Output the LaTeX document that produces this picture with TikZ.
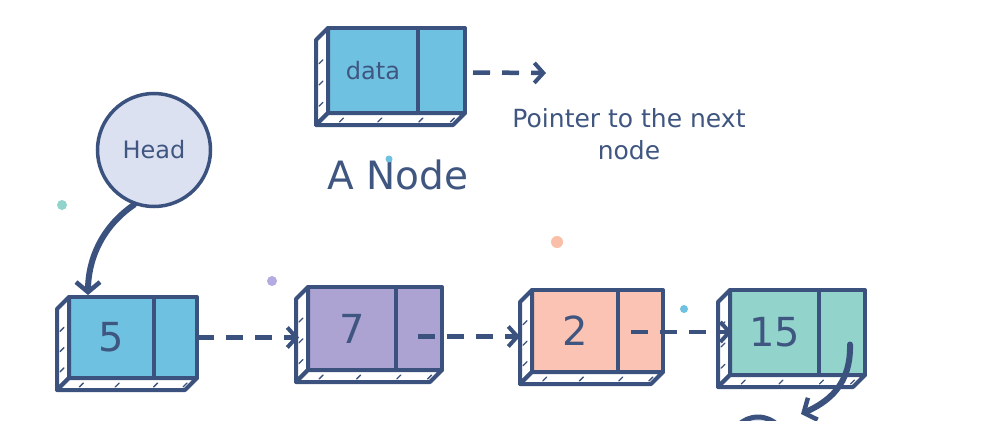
\documentclass[tikz,border=0pt]{standalone}
\usepackage{fontspec}
\setmainfont{DejaVu Sans}
\usetikzlibrary{arrows.meta,calc}
\definecolor{ink}{HTML}{3B527E}
\definecolor{txt}{HTML}{3F5680}
\definecolor{cblue}{HTML}{6EC1E0}
\definecolor{cpurple}{HTML}{ADA3D2}
\definecolor{csalmon}{HTML}{FBC3B3}
\definecolor{cteal}{HTML}{92D3CB}
\definecolor{chead}{HTML}{DCE1F2}
\definecolor{dotpurple}{HTML}{B3ACE2}
\definecolor{dotsalmon}{HTML}{F9BFA8}
\tikzset{
  face/.style={draw=ink, line width=4pt, line join=round},
  cell/.style={face, inner sep=0pt, outer sep=0pt, anchor=north west},
  tick/.style={draw=ink, line width=1.3pt, line cap=round},
  bignum/.style={text=txt, font=\fontsize{40}{44}\selectfont, inner sep=0pt},
  smallnum/.style={text=txt, font=\fontsize{24}{28}\selectfont, inner sep=0pt},
  lbl/.style={text=txt, font=\fontsize{25}{32}\selectfont, inner sep=0pt},
  ptr/.style={draw=ink, line width=4.5pt, dash pattern=on 17pt off 12pt,
    -{Straight Barb[length=9pt,width=20pt,line width=4pt]}},
  harrow/.style={draw=ink, line width=6pt, line cap=round,
    -{Straight Barb[length=10pt,width=24pt,line width=4.5pt]}},
}
% name, x, y, data width, ptr width, height, colour, text, text style
\newcommand\LLbox[9]{%
  \node[cell, fill=#7, minimum width=#4pt, minimum height=#6pt] (d#1) at (#2,#3) {};
  \node[cell, fill=#7, minimum width=#5pt, minimum height=#6pt] (p#1) at (d#1.north east) {};
  \draw[face, fill=white] (d#1.north west) -- ++(-12,12) -- ($(d#1.south west)+(-12,12)$) -- (d#1.south west) -- cycle;
  \draw[face, fill=white] (d#1.south west) -- (p#1.south east) -- ++(-12,12) -- ($(d#1.south west)+(-12,12)$) -- cycle;
  \foreach \f in {0.35,0.6,0.85}{
    \draw[tick] ($(d#1.north west)!\f!(d#1.south west)+(-9,6)$) -- ++(4,-4);
  }
  \foreach \f in {0.12,0.4,0.7,0.93}{
    \draw[tick] ($(d#1.south west)!\f!(p#1.south east)+(-5,9)$) -- ++(4,-4);
  }
  \node[#9] (t#1) at (d#1.center) {#8};
}
\begin{document}
\begin{tikzpicture}[x=1pt,y=-1pt]
\useasboundingbox (0,0) rectangle (1000,420);
\fill[white] (0,0) rectangle (1000,420);
\clip (0,0) rectangle (1000,420);

% dots
\fill[cteal] (62,205) circle[radius=5];
\fill[dotsalmon] (557,242) circle[radius=6];
\fill[dotpurple] (272,281) circle[radius=5];
\fill[cblue] (684,309) circle[radius=4];

% template node
\LLbox{tm}{328}{28}{90}{47}{85}{cblue}{data}{smallnum}
\coordinate (tmend) at (546,73);
\draw[ptr] ($(ptm.east)+(8,2)$) -- (tmend);
\node[lbl, align=center] (ptrtxt) at (629,134) {Pointer to the next\\node};
\node[text=txt, font=\fontsize{39}{44}\selectfont, inner sep=0pt] (aname) at (398,175) {A Node};
\fill[cblue] (389,159) circle[radius=3.5];

% head
\node[circle, draw=ink, line width=3.5pt, fill=chead, minimum size=113pt,
      text=txt, font=\fontsize{24}{28}\selectfont] (head) at (154,150) {Head};

% list nodes
\LLbox{a}{69}{297}{85}{43}{81}{cblue}{5}{bignum}
\LLbox{b}{308}{287}{88}{46}{83}{cpurple}{7}{bignum}
\LLbox{c}{532}{290}{86}{45}{82}{csalmon}{2}{bignum}
\LLbox{e}{730}{290}{89}{46}{85}{cteal}{15}{bignum}

% null (partly visible)
\node[circle, draw=ink, line width=5pt, fill=chead, minimum size=56pt] (nullnode) at (758,445) {};

% head arrow
\coordinate (hend) at ($(da.north west)+(19,-2)$);
\draw[harrow] (head.250) .. controls (100,228) and (88,262) .. (hend);

% pointers
\coordinate (lb) at ($(db.west)+(-9,0)$);
\draw[ptr] (pa.east) -- (pa.east -| lb);
\coordinate (sb) at ($(pb.center)+(-1,8)$);
\coordinate (lc) at ($(dc.west)+(-12,0)$);
\draw[ptr] (sb) -- (sb -| lc);
\coordinate (sc) at ($(pc.center)+(-10,1)$);
\coordinate (le) at ($(de.west)+(2,0)$);
\draw[ptr] (sc) -- (sc -| le);
\coordinate (se) at ($(pe.center)+(8,12)$);
\coordinate (eend) at (801,414);
\draw[harrow] (se) .. controls (851,385) and (828,402) .. (eend);
\end{tikzpicture}
\end{document}
